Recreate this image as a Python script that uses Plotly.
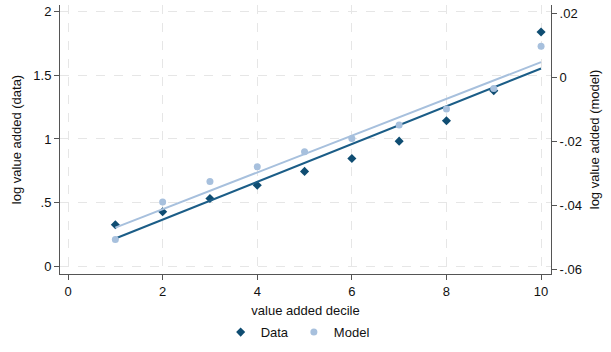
import numpy as np
import plotly.graph_objects as go

deciles = [1, 2, 3, 4, 5, 6, 7, 8, 9, 10]
data_vals = [0.325, 0.428, 0.532, 0.636, 0.745, 0.846, 0.983, 1.144, 1.38, 1.842]
model_vals = [-0.0507, -0.0389, -0.0325, -0.0279, -0.0232, -0.0190, -0.0148, -0.0098, -0.0034, 0.0099]

x_ticks = [0, 2, 4, 6, 8, 10]
y1_ticks = [0, 0.5, 1, 1.5, 2]
y1_labels = ["0", ".5", "1", "1.5", "2"]
y2_ticks = [-0.06, -0.04, -0.02, 0, 0.02]
y2_labels = ["-.06", "-.04", "-.02", "0", ".02"]

dark = "#0f4d72"
dark_line = "#1b5d87"
light = "#a7c0dd"

x = np.array(deciles, dtype=float)
b_d = np.polyfit(x, data_vals, 1)
b_m = np.polyfit(x, model_vals, 1)
xl = np.array([x.min(), x.max()])

font = "Liberation Sans, Arial, Helvetica, sans-serif"

fig = go.Figure()
fig.add_trace(go.Scatter(x=deciles, y=data_vals, mode="markers", name="Data",
                         marker=dict(symbol="diamond", size=7, color=dark), yaxis="y"))
fig.add_trace(go.Scatter(x=deciles, y=model_vals, mode="markers", name="Model",
                         marker=dict(symbol="circle", size=7, color=light), yaxis="y2"))
fig.add_trace(go.Scatter(x=xl, y=np.polyval(b_d, xl), mode="lines", showlegend=False,
                         line=dict(color=dark_line, width=2), yaxis="y"))
fig.add_trace(go.Scatter(x=xl, y=np.polyval(b_m, xl), mode="lines", showlegend=False,
                         line=dict(color=light, width=2), yaxis="y2"))

axis_common = dict(showline=True, linecolor="#555555", linewidth=1, ticks="outside",
                   ticklen=5, tickcolor="#555555", zeroline=False, automargin=False,
                   tickfont=dict(size=13, color="#111111", family=font))

fig.update_layout(
    width=611, height=352,
    margin=dict(l=60, r=60, t=5, b=75),
    paper_bgcolor="white", plot_bgcolor="white",
    font=dict(family=font, size=13, color="#111111"),
    xaxis=dict(range=[-0.17, 10.21], tickvals=x_ticks, showgrid=True,
               gridcolor="#e6e6e6", griddash="dash", gridwidth=1,
               title=dict(text="value added decile", font=dict(size=13), standoff=8),
               **axis_common),
    yaxis=dict(range=[-0.062, 2.054], tickvals=y1_ticks, ticktext=y1_labels, showgrid=True,
               gridcolor="#e6e6e6", griddash="dash", gridwidth=1,
               title=dict(text="log value added (data)", font=dict(size=13), standoff=8),
               **axis_common),
    yaxis2=dict(range=[-0.0615, 0.0228], tickvals=y2_ticks, ticktext=y2_labels,
                overlaying="y", side="right", showgrid=False,
                title=dict(text="log value added (model)", font=dict(size=13), standoff=8),
                **axis_common),
    legend=dict(orientation="h", x=0.484, xanchor="center", y=-0.272, yanchor="bottom",
                font=dict(size=13), itemwidth=30, bgcolor="rgba(0,0,0,0)",
                tracegroupgap=0),
    showlegend=True,
)

fig.write_html("out.html")
